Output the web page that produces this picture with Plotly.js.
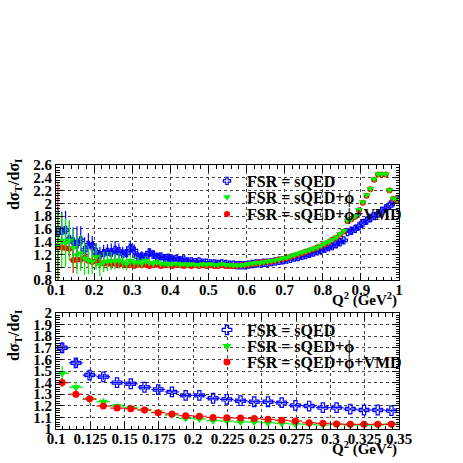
<!DOCTYPE html>
<html><head><meta charset="utf-8">
<script src="https://cdn.plot.ly/plotly-3.0.1.min.js"></script>
<style>html,body{margin:0;padding:0;background:#fff}#c{width:463px;height:463px}</style>
</head><body><div id="c"></div>
<script>
// ---------- data: upper panel ----------
const topQ2 = [
0.105,0.115,0.125,0.135,0.145,0.155,0.165,0.175,0.185,0.195,
0.205,0.215,0.225,0.235,0.245,0.255,0.265,0.275,0.285,0.295,
0.305,0.315,0.325,0.335,0.345,0.355,0.365,0.375,0.385,0.395,
0.405,0.415,0.425,0.435,0.445,0.455,0.465,0.475,0.485,0.495,
0.505,0.515,0.525,0.535,0.545,0.555,0.565,0.575,0.585,0.595,
0.605,0.615,0.625,0.635,0.645,0.655,0.665,0.675,0.685,0.695,
0.705,0.715,0.725,0.735,0.745,0.755,0.765,0.775,0.785,0.795,
0.805,0.815,0.825,0.835,0.845,0.855,0.865,0.875,0.885,0.895,
0.905,0.915,0.925,0.935,0.945,0.955,0.965,0.975,0.985,0.995];
const topSQED = [
1.56,1.57,1.58,1.44,1.40,1.36,1.42,1.27,1.35,1.33,
1.24,1.19,1.22,1.24,1.23,1.27,1.25,1.21,1.22,1.30,
1.26,1.16,1.17,1.16,1.23,1.20,1.16,1.17,1.14,1.15,
1.12,1.13,1.11,1.12,1.09,1.09,1.08,1.09,1.07,1.07,
1.06,1.06,1.05,1.06,1.05,1.04,1.04,1.03,1.03,1.03,
1.04,1.05,1.06,1.06,1.07,1.07,1.08,1.09,1.10,1.11,
1.12,1.13,1.15,1.16,1.18,1.19,1.21,1.23,1.25,1.27,
1.29,1.31,1.33,1.36,1.39,1.42,1.55,1.57,1.60,1.64,
1.69,1.73,1.77,1.80,1.84,1.88,1.92,1.96,2.02,2.06];
const topSQEDerr = [
0.38,0.30,0.30,0.26,0.22,0.28,0.22,0.20,0.18,0.16,
0.14,0.13,0.13,0.12,0.14,0.14,0.12,0.11,0.10,0.12,
0.10,0.08,0.08,0.07,0.07,0.06,0.06,0.05,0.05,0.05,
0.045,0.04,0.04,0.035,0.035,0.03,0.03,0.03,0.025,0.025,
0.02,0.02,0.02,0.02,0.02,0.02,0.02,0.02,0.02,0.02,
0.015,0.015,0.015,0.015,0.015,0.015,0.015,0.015,0.015,0.015,
0.015,0.015,0.015,0.015,0.015,0.015,0.015,0.015,0.015,0.015,
0.015,0.015,0.015,0.015,0.015,0.015,0.015,0.015,0.015,0.015,
0.015,0.015,0.015,0.015,0.015,0.015,0.015,0.015,0.015,0.015];
const topPhi = [
1.35,1.42,1.38,1.42,1.30,1.19,1.22,1.14,1.11,1.09,
1.16,1.04,1.08,1.09,1.10,1.09,1.11,1.08,1.05,1.10,
1.07,1.08,1.06,1.10,1.07,1.06,1.08,1.05,1.06,1.04,
1.05,1.06,1.04,1.05,1.04,1.05,1.04,1.04,1.05,1.04,
1.05,1.04,1.04,1.05,1.04,1.04,1.03,1.03,1.03,1.04,
1.05,1.06,1.07,1.07,1.08,1.09,1.10,1.11,1.12,1.14,
1.15,1.17,1.19,1.21,1.23,1.25,1.27,1.29,1.31,1.34,
1.37,1.40,1.43,1.47,1.52,1.57,1.73,1.76,1.80,1.90,
2.02,2.13,2.23,2.38,2.46,2.46,2.46,2.21,2.08,2.06];
const topPhiErr = [
0.55,0.42,0.38,0.32,0.30,0.30,0.28,0.26,0.22,0.20,
0.20,0.18,0.16,0.15,0.14,0.13,0.12,0.11,0.10,0.10,
0.09,0.08,0.08,0.07,0.06,0.06,0.05,0.05,0.045,0.04,
0.035,0.03,0.03,0.03,0.025,0.025,0.025,0.02,0.02,0.02,
0.015,0.015,0.015,0.015,0.015,0.015,0.015,0.015,0.015,0.015,
0.015,0.015,0.015,0.015,0.015,0.015,0.015,0.015,0.015,0.015,
0.015,0.015,0.015,0.015,0.015,0.015,0.015,0.015,0.015,0.015,
0.015,0.015,0.015,0.015,0.015,0.015,0.015,0.015,0.015,0.015,
0.015,0.015,0.015,0.015,0.015,0.015,0.015,0.015,0.015,0.015];
const topVMD = [
1.33,1.31,1.30,1.29,1.11,1.12,1.12,1.15,1.10,1.08,
1.10,1.07,1.06,1.06,1.05,1.06,1.04,1.05,1.03,1.04,
1.02,1.04,1.03,1.04,1.02,1.03,1.04,1.02,1.03,1.03,
1.02,1.04,1.03,1.02,1.03,1.02,1.03,1.02,1.03,1.02,
1.03,1.02,1.02,1.03,1.02,1.02,1.02,1.02,1.03,1.03,
1.04,1.05,1.06,1.07,1.08,1.08,1.09,1.10,1.12,1.13,
1.15,1.16,1.18,1.20,1.22,1.24,1.26,1.28,1.31,1.33,
1.36,1.39,1.43,1.46,1.51,1.56,1.72,1.75,1.79,1.89,
2.01,2.12,2.22,2.37,2.45,2.45,2.45,2.20,2.07,2.05];
const topVMDerr = [
1.00,0.10,0.10,0.12,0.20,0.15,0.12,0.12,0.10,0.10,
0.10,0.09,0.08,0.08,0.07,0.07,0.06,0.06,0.05,0.05,
0.04,0.04,0.04,0.04,0.04,0.04,0.04,0.04,0.04,0.04,
0.03,0.03,0.03,0.03,0.03,0.03,0.03,0.03,0.03,0.03,
0.02,0.02,0.02,0.02,0.02,0.02,0.02,0.02,0.02,0.02,
0.015,0.015,0.015,0.015,0.015,0.015,0.015,0.015,0.015,0.015,
0.015,0.015,0.015,0.015,0.015,0.015,0.015,0.015,0.015,0.015,
0.015,0.015,0.015,0.015,0.015,0.015,0.015,0.015,0.015,0.015,
0.015,0.015,0.015,0.015,0.015,0.015,0.015,0.015,0.015,0.015];

// ---------- data: lower panel ----------
const botQ2 = [0.1045,0.1145,0.1245,0.1345,0.1445,0.1545,0.1645,0.1745,0.1845,0.1945,
0.2045,0.2145,0.2245,0.2345,0.2445,0.2545,0.2645,0.2745,0.2845,0.2945,
0.3045,0.3145,0.3245,0.3345,0.3445];
const botSQED = [1.70,1.57,1.465,1.45,1.40,1.39,1.36,1.34,1.32,1.29,1.29,1.265,1.255,
1.244,1.235,1.235,1.227,1.204,1.198,1.184,1.184,1.172,1.164,1.164,1.158];
const botSQEDerr = [0.05,0.035,0.03,0.025,0.02,0.02,0.02,0.018,0.016,0.015,0.015,0.014,0.013,
0.012,0.012,0.011,0.011,0.01,0.01,0.01,0.01,0.009,0.009,0.009,0.009];
const botPhi = [1.48,1.36,1.256,1.235,1.198,1.184,1.164,1.144,1.12,1.092,1.086,1.072,1.069,
1.060,1.060,1.054,1.049,1.043,1.040,1.034,1.040,1.034,1.034,1.034,1.043];
const botPhiErr = [0.06,0.045,0.035,0.03,0.025,0.025,0.022,0.02,0.018,0.016,0.015,0.014,0.013,
0.012,0.012,0.011,0.011,0.01,0.01,0.01,0.01,0.01,0.01,0.01,0.01];
const botVMD = [1.40,1.30,1.26,1.198,1.18,1.175,1.164,1.141,1.13,1.115,1.11,1.10,1.096,
1.094,1.090,1.083,1.075,1.069,1.054,1.049,1.043,1.040,1.040,1.040,1.040];
const botVMDerr = [0.04,0.03,0.025,0.02,0.018,0.016,0.015,0.014,0.013,0.012,0.011,0.011,0.01,
0.01,0.01,0.01,0.01,0.01,0.01,0.01,0.01,0.01,0.01,0.01,0.01];
const halfBin = 0.005;

// ---------- labels ----------
const seriesNames = ['FSR = sQED','FSR = sQED+ϕ','FSR = sQED+ϕ+VMD'];
const topXticks = [0.1,0.2,0.3,0.4,0.5,0.6,0.7,0.8,0.9,1];
const topXlabels = ['0.1','0.2','0.3','0.4','0.5','0.6','0.7','0.8','0.9','1'];
const topYticks = [0.8,1,1.2,1.4,1.6,1.8,2,2.2,2.4,2.6];
const topYlabels = ['0.8','1','1.2','1.4','1.6','1.8','2','2.2','2.4','2.6'];
const botXticks = [0.1,0.125,0.15,0.175,0.2,0.225,0.25,0.275,0.3,0.325,0.35];
const botXlabels = ['0.1','0.125','0.15','0.175','0.2','0.225','0.25','0.275','0.3','0.325','0.35'];
const botYticks = [1,1.1,1.2,1.3,1.4,1.5,1.6,1.7,1.8,1.9,2];
const botYlabels = ['1','1.1','1.2','1.3','1.4','1.5','1.6','1.7','1.8','1.9','2'];
const xTitle = 'Q<sup>2</sup> (GeV<sup>2</sup>)';
const yTitle = 'dσ<sub>T</sub>/dσ<sub>I</sub>';

const BLUE='#0000ff', GREEN='#00ee00', RED='#ff0000';
const FONT = 'Liberation Serif, Times New Roman, serif';

function tr(x,y,e,name,color,symbol,size,xa,ya,leg){
  return {x:x,y:y,type:'scatter',mode:'markers',name:name,legend:leg,
    xaxis:xa,yaxis:ya,cliponaxis:true,
    marker:{color:color,symbol:symbol,size:size,line:{color:color,width:symbol==='cross-open'?1.2:0}},
    error_y:{type:'data',array:e,visible:true,color:color,thickness:1.2,width:0},
    error_x:{type:'constant',value:halfBin,visible:true,color:color,thickness:1.2,width:0}};
}
const data = [
  tr(topQ2,topSQED,topSQEDerr,seriesNames[0],BLUE,'cross-open',6,'x','y','legend'),
  tr(topQ2,topVMD,topVMDerr,seriesNames[2],RED,'circle',6,'x','y','legend3'),
  tr(topQ2,topPhi,topPhiErr,seriesNames[1],GREEN,'triangle-down',7,'x','y','legend2'),
  tr(botQ2,botSQED,botSQEDerr,seriesNames[0],BLUE,'cross-open',8,'x2','y2','legend4'),
  tr(botQ2,botPhi,botPhiErr,seriesNames[1],GREEN,'triangle-down',8,'x2','y2','legend5'),
  tr(botQ2,botVMD,botVMDerr,seriesNames[2],RED,'circle',7,'x2','y2','legend6')
];

const tickFont = {family:FONT,size:15,color:'#000',weight:'bold'};
function ax(domain,range,tv,tt,minorD,anchor,isX){
  const a = {domain:domain,range:range,anchor:anchor,tickmode:'array',tickvals:tv,ticktext:tt,
    ticks:'inside',ticklen:7,tickwidth:1,tickcolor:'#000',
    showline:true,linecolor:'#000',linewidth:1,mirror:'allticks',
    showgrid:true,gridcolor:'#444',griddash:'dot',gridwidth:1,zeroline:false,
    minor:{dtick:minorD,tick0:range[0],ticks:'inside',ticklen:3.5,tickcolor:'#000',showgrid:false},
    tickfont:tickFont,fixedrange:true};
  if (isX) a.ticklabelstandoff = -4;
  return a;
}
const L = 56/463, R = 399/463;
function leg(yc){
  return {x:207/463,xanchor:'left',y:1-yc/463,yanchor:'middle',bgcolor:'rgba(0,0,0,0)',
    borderwidth:0,font:{family:FONT,size:16,color:'#000',weight:'bold'},itemclick:false};
}
const layout = {
  width:463,height:463,margin:{l:0,r:0,t:0,b:0},
  paper_bgcolor:'#fff',plot_bgcolor:'#fff',showlegend:true,
  xaxis: ax([L,R],[0.1,1],topXticks,topXlabels,0.02,'y',true),
  yaxis: ax([1-280/463,1-165/463],[0.8,2.6],topYticks,topYlabels,0.04,'x',false),
  xaxis2: ax([L,R],[0.1,0.35],botXticks,botXlabels,0.005,'y2',true),
  yaxis2: ax([1-429/463,1-313/463],[1,2],botYticks,botYlabels,0.02,'x2',false),
  legend: leg(181), legend2: leg(197), legend3: leg(214),
  legend4: leg(330), legend5: leg(346), legend6: leg(362),
  annotations:[
    {text:xTitle,xref:'paper',yref:'paper',x:R,y:1-299/463,xanchor:'right',yanchor:'middle',
      showarrow:false,font:{family:FONT,size:15,color:'#000',weight:'bold'}},
    {text:xTitle,xref:'paper',yref:'paper',x:R,y:1-448/463,xanchor:'right',yanchor:'middle',
      showarrow:false,font:{family:FONT,size:15,color:'#000',weight:'bold'}},
    {text:yTitle,xref:'paper',yref:'paper',x:14/463,y:1-185/463,xanchor:'center',yanchor:'middle',
      textangle:-90,showarrow:false,font:{family:FONT,size:16,color:'#000',weight:'bold'}},
    {text:yTitle,xref:'paper',yref:'paper',x:14/463,y:1-336/463,xanchor:'center',yanchor:'middle',
      textangle:-90,showarrow:false,font:{family:FONT,size:16,color:'#000',weight:'bold'}}
  ]
};
Plotly.newPlot('c',data,layout,{staticPlot:true,displayModeBar:false});
</script></body></html>
